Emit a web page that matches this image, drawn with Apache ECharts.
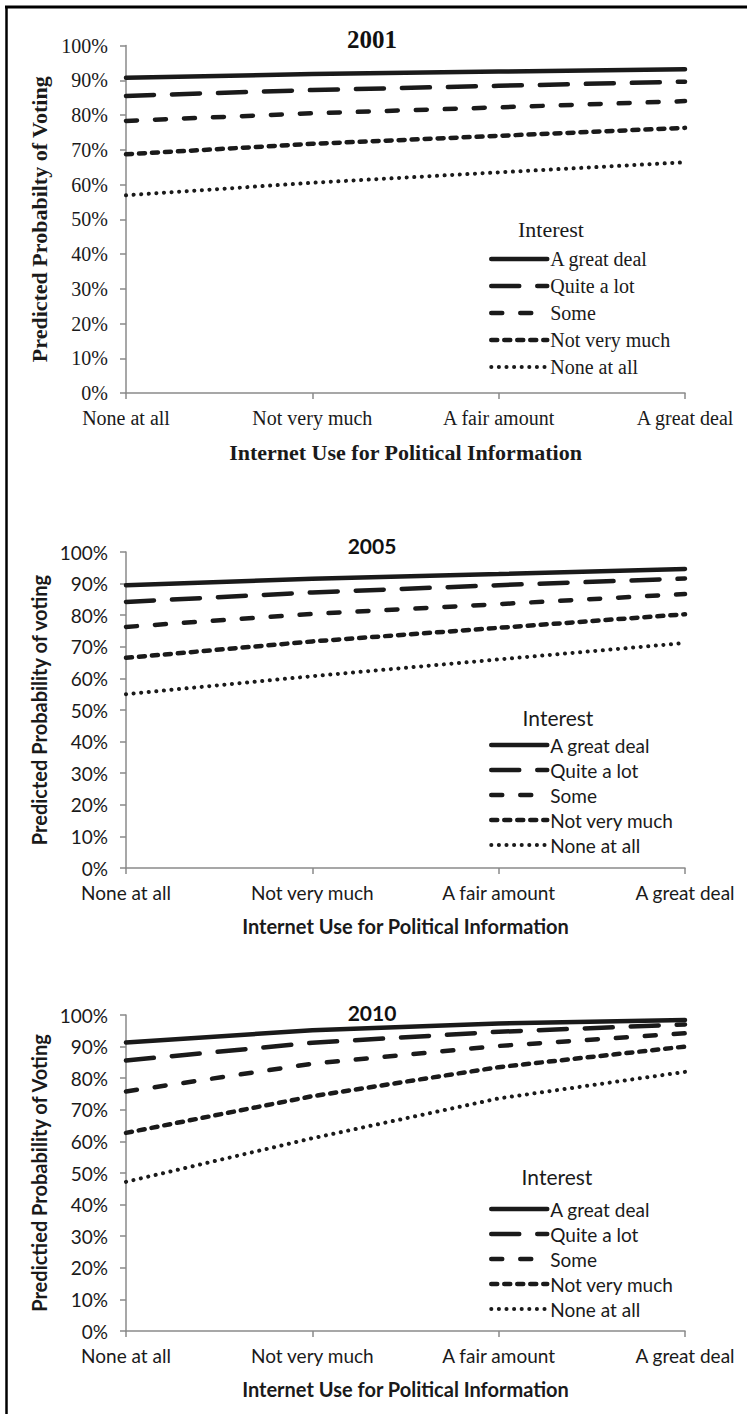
<!DOCTYPE html>
<html>
<head><meta charset="utf-8">
<script src="https://cdn.jsdelivr.net/npm/echarts@6/dist/echarts.min.js"></script>
</head>
<body style="margin:0;background:#fff;">
<div id="main" style="width:747px;height:1414px;"></div>
<script>
// categories on the x axis, one series per level of interest
var categories = ['None at all', 'Not very much', 'A fair amount', 'A great deal'];
var interest = ['A great deal', 'Quite a lot', 'Some', 'Not very much', 'None at all'];
var years = ['2001', '2005', '2010'];

// predicted probability of voting (%), rows follow `interest`
var v2001 = [
    [90.7, 91.8, 92.5, 93.2],
    [85.5, 87.2, 88.4, 89.6],
    [78.3, 80.5, 82.2, 84.0],
    [68.7, 71.7, 74.0, 76.3],
    [56.9, 60.5, 63.5, 66.4]
];
var v2005 = [
    [89.5, 91.5, 93.0, 94.6],
    [84.2, 87.2, 89.5, 91.6],
    [76.3, 80.4, 83.5, 86.7],
    [66.5, 71.7, 76.0, 80.3],
    [55.0, 60.7, 66.0, 71.2]
];
var v2010 = [
    [91.3, 95.2, 97.3, 98.4],
    [85.6, 91.2, 94.7, 97.0],
    [75.8, 84.6, 90.2, 94.2],
    [62.7, 74.3, 83.5, 90.0],
    [47.2, 61.0, 73.6, 82.0]
];
var yTitles = ['Predicted Probabilty of Voting', 'Predicted Probability of voting', 'Predictied Probability of Voting'];
var xTitle = 'Internet Use for Political Information';
var legendTitle = 'Interest';

var values = [v2001, v2005, v2010];

// line look of each interest level
var dashes = [
    {type: 'solid', width: 4.5},
    {type: [28, 18], width: 4.5},
    {type: [11, 18], width: 4.5},
    {type: [6, 7], width: 4.5},
    {type: [0.1, 7.5], width: 4}
];

// layout of the three panels
var panels = [
    {top: 45.5, height: 347.5, font: '"Liberation Serif", serif', size: 20, nameSize: 22, titleSize: 25,
     titleY: 39, legendTop: 249, legendGap: 7, intX: 551, intY: 229, legendSize: 20},
    {top: 552, height: 316, font: 'Lato, sans-serif', size: 19, nameSize: 20, titleSize: 21,
     titleY: 545, legendTop: 735, legendGap: 5, intX: 558, intY: 717, legendSize: 19},
    {top: 1015, height: 316, font: 'Lato, sans-serif', size: 19, nameSize: 20, titleSize: 21,
     titleY: 1012, legendTop: 1199, legendGap: 5, intX: 557, intY: 1176, legendSize: 19}
];

var grid = [], xAxis = [], yAxis = [], series = [], legend = [], graphic = [];

panels.forEach(function (p, k) {
    grid.push({left: 126, right: 62, top: p.top, height: p.height});
    xAxis.push({
        type: 'category', gridIndex: k, data: categories, boundaryGap: false,
        axisLine: {lineStyle: {color: '#8a8a8a', width: 1.5}},
        axisTick: {show: true, length: 6, alignWithLabel: true, lineStyle: {color: '#8a8a8a', width: 1.5}},
        axisLabel: {color: '#1a1a1a', fontFamily: p.font, fontSize: p.size, margin: 15},
        splitLine: {show: false},
        name: xTitle, nameLocation: 'middle', nameGap: 48,
        nameTextStyle: {color: '#1a1a1a', fontFamily: p.font, fontSize: p.nameSize, fontWeight: 'bold'}
    });
    yAxis.push({
        type: 'value', gridIndex: k, min: 0, max: 100, interval: 10,
        axisLine: {show: true, lineStyle: {color: '#8a8a8a', width: 1.5}},
        axisTick: {show: true, length: 6, lineStyle: {color: '#8a8a8a', width: 1.5}},
        axisLabel: {color: '#1a1a1a', fontFamily: p.font, fontSize: p.size, margin: 18, formatter: '{value}%'},
        splitLine: {show: false},
        name: yTitles[k], nameLocation: 'middle', nameGap: 73, nameRotate: 90,
        nameTextStyle: {color: '#1a1a1a', fontFamily: p.font, fontSize: p.nameSize, fontWeight: 'bold'}
    });
    values[k].forEach(function (row, i) {
        series.push({
            name: interest[i], type: 'line', xAxisIndex: k, yAxisIndex: k,
            data: row, symbol: 'none', smooth: false, silent: true,
            itemStyle: {color: '#1a1a1a'},
            lineStyle: {color: '#1a1a1a', width: dashes[i].width, type: dashes[i].type, cap: 'round'}
        });
    });
    legend.push({
        orient: 'vertical', left: 489, top: p.legendTop, padding: 0,
        itemWidth: 56, itemHeight: 12, itemGap: p.legendGap,
        data: interest,
        itemStyle: {opacity: 0, borderWidth: 0},
        lineStyle: {width: 'inherit', type: 'inherit', cap: 'inherit', color: '#1a1a1a'},
        textStyle: {color: '#1a1a1a', fontFamily: p.font, fontSize: p.legendSize, lineHeight: 20, padding: [0, 0, 0, -2]}
    });
    graphic.push({
        type: 'text', x: 372, y: p.titleY,
        style: {text: years[k], font: 'bold ' + p.titleSize + 'px ' + p.font, fill: '#111',
                align: 'center', verticalAlign: 'middle'}
    });
    graphic.push({
        type: 'text', x: p.intX, y: p.intY,
        style: {text: legendTitle, font: (p.legendSize + 2) + 'px ' + p.font, fill: '#1a1a1a',
                align: 'center', verticalAlign: 'middle'}
    });
});

// frame around the figure (top and left edges)
graphic.push({type: 'line', shape: {x1: 5, y1: 7, x2: 747, y2: 7}, style: {stroke: '#000', lineWidth: 3}});
graphic.push({type: 'line', shape: {x1: 6.5, y1: 6, x2: 6.5, y2: 1414}, style: {stroke: '#000', lineWidth: 2.5}});

var myChart = echarts.init(document.getElementById('main'), null, {renderer: 'svg'});
myChart.setOption({
    animation: false,
    backgroundColor: '#fff',
    grid: grid,
    xAxis: xAxis,
    yAxis: yAxis,
    series: series,
    legend: legend,
    graphic: graphic
});
</script>
</body>
</html>
